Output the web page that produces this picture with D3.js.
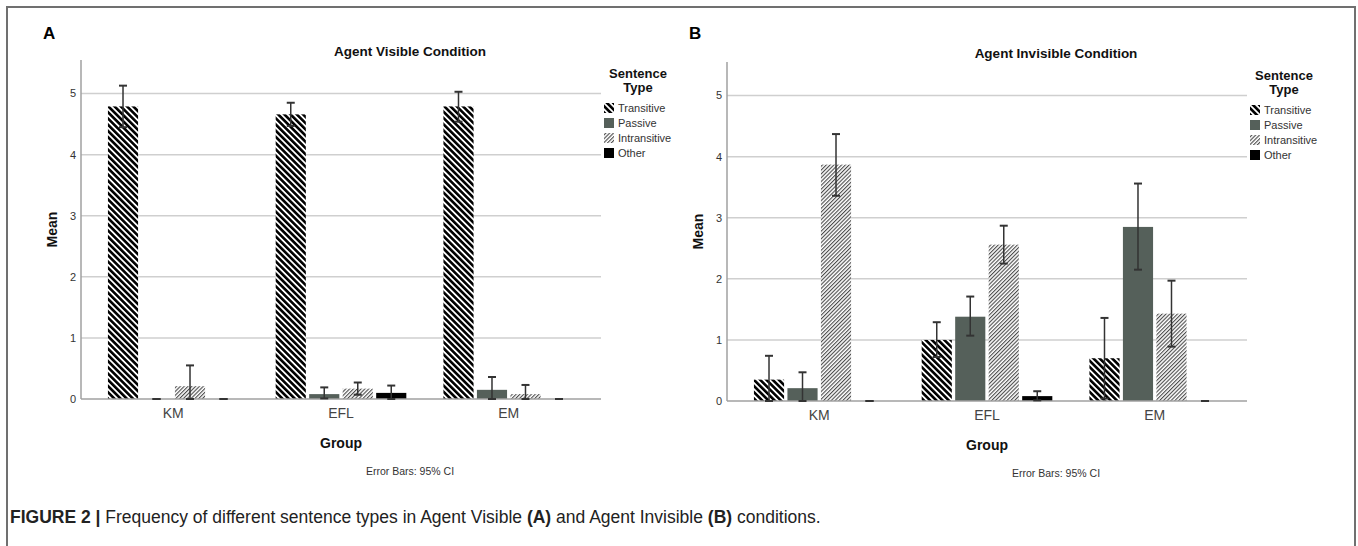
<!DOCTYPE html>
<html>
<head>
<meta charset="utf-8">
<script src="https://cdn.jsdelivr.net/npm/d3@7"></script>
<style>
  body { margin: 0; background: #fff; }
  svg { display: block; font-family: 'Liberation Sans', Arial, sans-serif; }
</style>
</head>
<body>
<script>
const groups = ['KM', 'EFL', 'EM']
const types = ['Transitive', 'Passive', 'Intransitive', 'Other']
const yTicks = [0, 1, 2, 3, 4, 5]

// Agent Visible condition, rows = group, cols = sentence type
const visibleMean = [[4.79, 0, 0.21, 0], [4.66, 0.08, 0.17, 0.10], [4.79, 0.15, 0.08, 0]]
const visibleLow = [[4.45, 0, 0, 0], [4.47, 0.01, 0.07, 0], [4.54, 0, 0, 0]]
const visibleHigh = [[5.13, 0, 0.55, 0], [4.85, 0.19, 0.27, 0.22], [5.03, 0.36, 0.23, 0]]

// Agent Invisible condition
const invisibleMean = [[0.35, 0.21, 3.87, 0], [1.0, 1.38, 2.56, 0.08], [0.70, 2.85, 1.43, 0]]
const invisibleLow = [[0, 0, 3.36, 0], [0.72, 1.07, 2.25, 0.01], [0.04, 2.15, 0.89, 0]]
const invisibleHigh = [[0.74, 0.47, 4.37, 0], [1.29, 1.71, 2.87, 0.16], [1.36, 3.56, 1.97, 0]]

const width = 1358
const height = 546
const plotW = 520

const svg = d3.select('body').append('svg')
  .attr('width', width)
  .attr('height', height)

const defs = svg.append('defs')

const p1 = defs.append('pattern')
  .attr('id', 'pat-transitive')
  .attr('patternUnits', 'userSpaceOnUse')
  .attr('width', 4.4).attr('height', 4.4)
  .attr('patternTransform', 'rotate(-45)')
p1.append('rect').attr('width', 4.4).attr('height', 4.4).attr('fill', '#fff')
p1.append('rect').attr('width', 2.6).attr('height', 4.4).attr('fill', '#000')

const p2 = defs.append('pattern')
  .attr('id', 'pat-intransitive')
  .attr('patternUnits', 'userSpaceOnUse')
  .attr('width', 2.7).attr('height', 2.7)
  .attr('patternTransform', 'rotate(45)')
p2.append('rect').attr('width', 2.7).attr('height', 2.7).attr('fill', '#fff')
p2.append('rect').attr('width', 1.1).attr('height', 2.7).attr('fill', '#4a4a4a')

const fills = ['url(#pat-transitive)', '#55605a', 'url(#pat-intransitive)', '#000']

// frame round the figure
svg.append('path')
  .attr('d', `M7,${height + 10}V7H1355V${height + 10}`)
  .attr('fill', 'none')
  .attr('stroke', '#707070')
  .attr('stroke-width', 2)

function panel({ x0, top, zero, letter, title, mean, low, high }) {
  const g = svg.append('g').attr('transform', `translate(${x0},0)`)

  const x = d3.scaleBand().domain(groups).range([0, plotW]).paddingInner(0).paddingOuter(0.05)
  const xs = d3.scaleBand().domain(types).range([-67, 67]).paddingInner(0.1).paddingOuter(0.05)
  const y = d3.scaleLinear().domain([0, 5.55]).range([zero, top])

  // gridlines
  g.append('g')
    .selectAll('line')
    .data(yTicks.filter(d => d > 0))
    .join('line')
    .attr('x1', 0).attr('x2', plotW)
    .attr('y1', d => y(d)).attr('y2', d => y(d))
    .attr('stroke', '#cfcfcf')
    .attr('stroke-width', 1.5)

  const rows = []
  groups.forEach((grp, i) => types.forEach((t, j) => rows.push({ grp, t, j, v: mean[i][j], lo: low[i][j], hi: high[i][j] })))

  g.append('g')
    .selectAll('rect')
    .data(rows)
    .join('rect')
    .attr('x', d => x(d.grp) + x.bandwidth() / 2 + xs(d.t))
    .attr('width', xs.bandwidth())
    .attr('y', d => y(d.v))
    .attr('height', d => y(0) - y(d.v))
    .attr('fill', d => fills[d.j])

  // axes lines
  g.append('line')
    .attr('x1', 0).attr('x2', 0).attr('y1', top).attr('y2', zero)
    .attr('stroke', '#a0a0a0').attr('stroke-width', 1.5)
  g.append('line')
    .attr('x1', 0).attr('x2', plotW).attr('y1', zero).attr('y2', zero)
    .attr('stroke', '#a0a0a0').attr('stroke-width', 1.5)

  // error bars
  const eb = g.append('g')
    .attr('stroke', '#333')
    .attr('stroke-width', 1.5)
    .selectAll('g')
    .data(rows)
    .join('g')
    .attr('transform', d => `translate(${x(d.grp) + x.bandwidth() / 2 + xs(d.t) + xs.bandwidth() / 2},0)`)
  eb.append('line').attr('y1', d => y(d.lo)).attr('y2', d => y(d.hi))
  eb.append('line').attr('x1', -4).attr('x2', 4).attr('y1', d => y(d.hi)).attr('y2', d => y(d.hi)).attr('stroke-width', 2)
  eb.append('line').attr('x1', -4).attr('x2', 4).attr('y1', d => y(d.lo)).attr('y2', d => y(d.lo)).attr('stroke-width', 2)

  // y tick labels
  g.append('g')
    .selectAll('text')
    .data(yTicks)
    .join('text')
    .attr('x', -5)
    .attr('y', d => y(d))
    .attr('dy', '0.35em')
    .attr('text-anchor', 'end')
    .attr('font-size', 11)
    .attr('fill', '#333')
    .text(d => d)

  // category labels
  g.append('g')
    .selectAll('text')
    .data(groups)
    .join('text')
    .attr('x', d => x(d) + x.bandwidth() / 2)
    .attr('y', zero + 19)
    .attr('text-anchor', 'middle')
    .attr('font-size', 14)
    .attr('fill', '#444')
    .text(d => d)

  g.append('text')
    .attr('x', plotW / 2).attr('y', zero + 49)
    .attr('text-anchor', 'middle')
    .attr('font-size', 14).attr('font-weight', 'bold').attr('fill', '#111')
    .text('Group')

  g.append('text')
    .attr('transform', `translate(-29,${(top + zero) / 2}) rotate(-90)`)
    .attr('dy', '0.35em')
    .attr('text-anchor', 'middle')
    .attr('font-size', 14).attr('font-weight', 'bold').attr('fill', '#111')
    .text('Mean')

  g.append('text')
    .attr('x', 329).attr('y', top - 4)
    .attr('text-anchor', 'middle')
    .attr('font-size', 13.5).attr('font-weight', 'bold').attr('fill', '#111')
    .text(title)

  g.append('text')
    .attr('x', 329).attr('y', zero + 76)
    .attr('text-anchor', 'middle')
    .attr('font-size', 10.5).attr('fill', '#333')
    .text('Error Bars: 95% CI')

  g.append('text')
    .attr('x', -38).attr('y', 39)
    .attr('font-size', 17).attr('font-weight', 'bold').attr('fill', '#000')
    .text(letter)

  // legend
  const lg = g.append('g').attr('transform', `translate(523,${top})`)
  lg.append('text')
    .attr('x', 34).attr('y', 18)
    .attr('text-anchor', 'middle')
    .attr('font-size', 13).attr('font-weight', 'bold').attr('fill', '#111')
    .selectAll('tspan')
    .data(['Sentence', 'Type'])
    .join('tspan')
    .attr('x', 34)
    .attr('dy', (d, i) => i ? 14 : 0)
    .text(d => d)
  const items = lg.selectAll('g.item')
    .data(types)
    .join('g')
    .attr('class', 'item')
    .attr('transform', (d, i) => `translate(0,${48 + i * 15})`)
  items.append('rect')
    .attr('x', 0).attr('y', -5).attr('width', 10).attr('height', 10)
    .attr('fill', (d, i) => fills[i])
  items.append('text')
    .attr('x', 14).attr('dy', '0.35em')
    .attr('font-size', 11).attr('fill', '#333')
    .text(d => d)
}

panel({ x0: 81, top: 60, zero: 399, letter: 'A', title: 'Agent Visible Condition', mean: visibleMean, low: visibleLow, high: visibleHigh })
panel({ x0: 727, top: 62, zero: 401, letter: 'B', title: 'Agent Invisible Condition', mean: invisibleMean, low: invisibleLow, high: invisibleHigh })

// caption
const cap = svg.append('text')
  .attr('x', 10).attr('y', 523)
  .attr('font-size', 17.5).attr('fill', '#222')
const parts = [
  ['FIGURE 2 | ', true],
  ['Frequency of different sentence types in Agent Visible ', false],
  ['(A)', true],
  [' and Agent Invisible ', false],
  ['(B)', true],
  [' conditions.', false]
]
cap.selectAll('tspan')
  .data(parts)
  .join('tspan')
  .attr('font-weight', d => d[1] ? 'bold' : 'normal')
  .style('white-space', 'pre')
  .text(d => d[0])
</script>
</body>
</html>
